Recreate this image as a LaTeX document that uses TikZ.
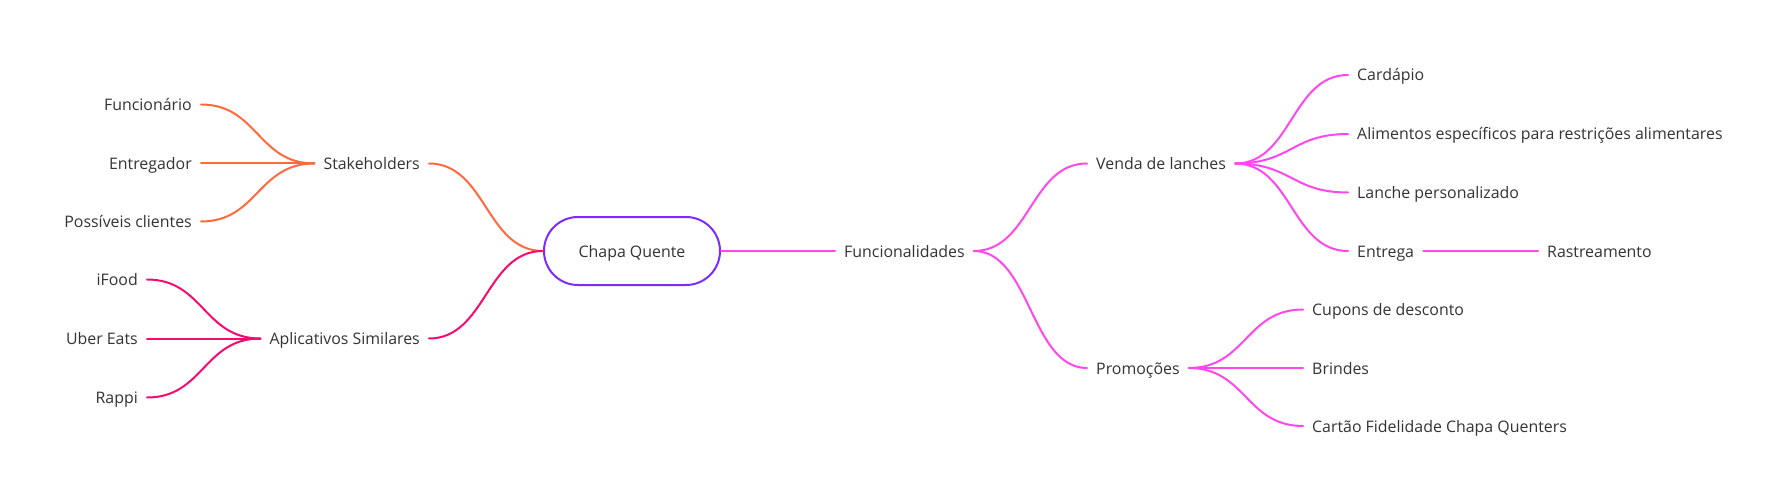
\documentclass[tikz,border=0pt]{standalone}
\usepackage{fontspec}
\setmainfont{Open Sans}
\usetikzlibrary{calc}
\definecolor{txt}{HTML}{333333}
\definecolor{corange}{HTML}{FF6A3D}
\definecolor{cpink}{HTML}{F50A72}
\definecolor{cmag}{HTML}{FF48EC}
\definecolor{cpurple}{HTML}{7C2BFF}
\tikzset{
  lbl/.style={text=txt, font=\fontsize{15.9}{19}\selectfont, inner xsep=9pt, inner ysep=2pt, text height=12pt, text depth=0pt},
  rootbox/.style={draw=cpurple, line width=2pt, rounded corners=34pt, minimum width=176pt, minimum height=68pt, text=txt, font=\fontsize{15.9}{19}\selectfont, text height=12pt, text depth=0pt},
  conn/.style={line width=2pt, line cap=round},
  curve/.style={to path={let \p1=(\tikztostart), \p2=(\tikztotarget) in
     .. controls (\x1/2+\x2/2,\y1) and (\x1/2+\x2/2,\y2) .. (\tikztotarget)}},
}
\begin{document}
\begin{tikzpicture}[x=1pt,y=-1pt]
\useasboundingbox (0,0) rectangle (1781,500);
% root
\node[rootbox] (root) at (632,251) {Chapa Quente};
% left side
\node[lbl, anchor=east] (stake) at (429,163.5) {Stakeholders};
\node[lbl, anchor=east] (apps) at (429,338.5) {Aplicativos Similares};
\node[lbl, anchor=east] (func1) at (201,104.5) {Funcionário};
\node[lbl, anchor=east] (entreg) at (201,163.5) {Entregador};
\node[lbl, anchor=east] (poss) at (201,221.5) {Possíveis clientes};
\node[lbl, anchor=east] (ifood) at (147,279.5) {iFood};
\node[lbl, anchor=east] (uber) at (147,338.5) {Uber Eats};
\node[lbl, anchor=east] (rappi) at (147,397.5) {Rappi};
% right side
\node[lbl, anchor=west] (funcs) at (835,251) {Funcionalidades};
\node[lbl, anchor=west] (venda) at (1087,163.5) {Venda de lanches};
\node[lbl, anchor=west] (promo) at (1087,368) {Promoções};
\node[lbl, anchor=west] (card) at (1348,75) {Cardápio};
\node[lbl, anchor=west] (alim) at (1348,134) {Alimentos específicos para restrições alimentares};
\node[lbl, anchor=west] (lanche) at (1348,192.5) {Lanche personalizado};
\node[lbl, anchor=west] (entrega) at (1348,251) {Entrega};
\node[lbl, anchor=west] (rast) at (1538,251) {Rastreamento};
\node[lbl, anchor=west] (cupons) at (1303,309.5) {Cupons de desconto};
\node[lbl, anchor=west] (brindes) at (1303,368) {Brindes};
\node[lbl, anchor=west] (cartao) at (1303,426) {Cartão Fidelidade Chapa Quenters};
% connectors left
\draw[conn, corange] (stake.east) to[curve] (root.west);
\draw[conn, corange] (func1.east) to[curve] (stake.west);
\draw[conn, corange] (entreg.east) to[curve] (stake.west);
\draw[conn, corange] (poss.east) to[curve] (stake.west);
\draw[conn, cpink] (apps.east) to[curve] (root.west);
\draw[conn, cpink] (ifood.east) to[curve] (apps.west);
\draw[conn, cpink] (uber.east) to[curve] (apps.west);
\draw[conn, cpink] (rappi.east) to[curve] (apps.west);
% connectors right
\draw[conn, cmag] (root.east) to[curve] (funcs.west);
\draw[conn, cmag] (funcs.east) to[curve] (venda.west);
\draw[conn, cmag] (funcs.east) to[curve] (promo.west);
\draw[conn, cmag] (venda.east) to[curve] (card.west);
\draw[conn, cmag] (venda.east) to[curve] (alim.west);
\draw[conn, cmag] (venda.east) to[curve] (lanche.west);
\draw[conn, cmag] (venda.east) to[curve] (entrega.west);
\draw[conn, cmag] (entrega.east) to[curve] (rast.west);
\draw[conn, cmag] (promo.east) to[curve] (cupons.west);
\draw[conn, cmag] (promo.east) to[curve] (brindes.west);
\draw[conn, cmag] (promo.east) to[curve] (cartao.west);
\end{tikzpicture}
\end{document}
